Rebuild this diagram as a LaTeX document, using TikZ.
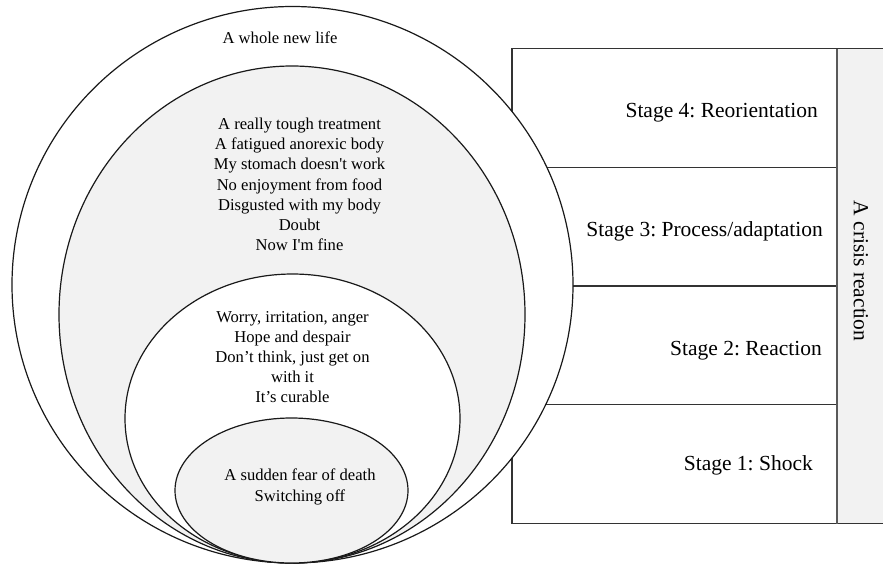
\documentclass[tikz,border=0pt]{standalone}
\usepackage{fontspec}
\setmainfont{Liberation Serif}[Ligatures=TeXOff]
\usepackage{tikz}
\usetikzlibrary{shapes.geometric}
\frenchspacing

\tikzset{
  ring/.style={ellipse, draw=black!90, line width=1.2pt, inner sep=0pt},
  stagebox/.style={draw=black!80, line width=1.2pt, fill=white},
  says/.style={align=center, inner sep=0pt, font=\fontsize{16.6}{20.2}\selectfont},
  stagetext/.style={anchor=east, inner sep=0pt, font=\fontsize{21.5}{24}\selectfont}
}

\begin{document}
\begin{tikzpicture}[x=1pt,y=-1pt]

        \useasboundingbox (0,0) rectangle (883,566);

        %Crisis column
        \fill [gray!10] (837,48.5) rectangle (883,523.5);
        \draw [draw=black!80, line width=1.2pt] (837,48.5) -- (883,48.5);
        \draw [draw=black!80, line width=1.2pt] (837,523.5) -- (883,523.5);
        \node (crisis) [rotate=-90, inner sep=0pt, font=\fontsize{21.5}{24}\selectfont] at (861,271) {A crisis reaction};

        %Stages
        \draw [stagebox] (512,48.5) rectangle (837,167.25);
        \draw [stagebox] (512,167.25) rectangle (837,286);
        \draw [stagebox] (512,286) rectangle (837,404.75);
        \draw [stagebox] (512,404.75) rectangle (837,523.5);
        \draw [draw=black!65, line width=1.6pt] (837,48.5) -- (837,523.5);
        \node (stagefour) [stagetext] at (818,112.5) {Stage 4: Reorientation};
        \node (stagethree) [stagetext] at (823,231.5) {Stage 3: Process/adaptation};
        \node (stagetwo) [stagetext] at (822,350.5) {Stage 2: Reaction};
        \node (stageone) [stagetext] at (813,465.5) {Stage 1: Shock};

        %Rings
        \node (life) [ring, fill=white, minimum width=561pt, minimum height=556.5pt] at (292.5,284.75) {};
        \node (ordeal) [ring, fill=gray!10, minimum width=466pt, minimum height=497pt] at (292,314.5) {};
        \node (feel) [ring, fill=white, minimum width=335pt, minimum height=289pt] at (292.5,418.5) {};
        \node (shock) [ring, fill=gray!10, minimum width=233pt, minimum height=145pt] at (291.5,490.5) {};

        %Ring texts
        \node (lifetext) [says] at (280,38) {A whole new life};
        \node (ordealtext) [says] at (299.5,184.5) {A really tough treatment\\A fatigued anorexic body\\My stomach doesn't work\\No enjoyment from food\\Disgusted with my body\\Doubt\\Now I'm fine};
        \node (feeltext) [says] at (292.5,357) {Worry, irritation, anger\\Hope and despair\\Don’t think, just get on\\with it\\It’s curable};
        \node (shocktext) [says] at (300,487) {A sudden fear of death\\Switching off};

\end{tikzpicture}
\end{document}
